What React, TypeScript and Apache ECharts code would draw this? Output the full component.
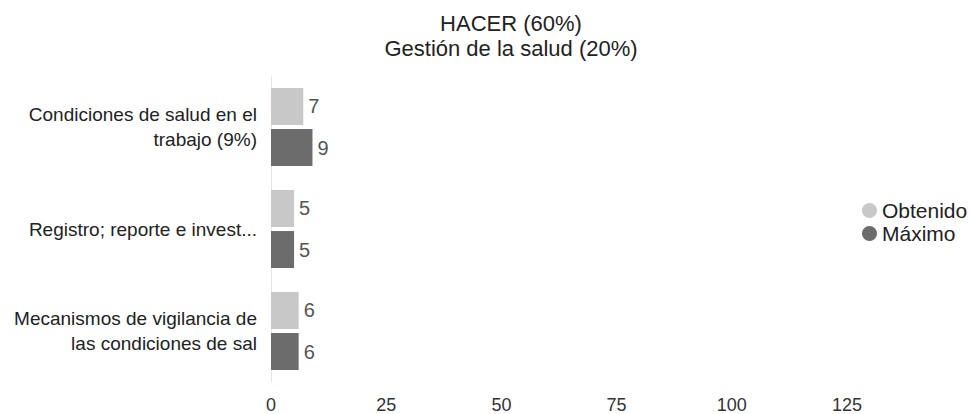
import React, { useEffect, useRef } from "react";
import * as echarts from "echarts";

const categories = [
  "Condiciones de salud en el\ntrabajo (9%)",
  "Registro; reporte e invest...",
  "Mecanismos de vigilancia de\nlas condiciones de sal",
];
const obtenido = [7, 5, 6];
const maximo = [9, 5, 6];
const titleLines = ["HACER (60%)", "Gestión de la salud (20%)"];
const seriesNames = ["Obtenido", "Máximo"];

export default function App() {
  const ref = useRef<HTMLDivElement>(null);
  useEffect(() => {
    if (!ref.current) return;
    const chart = echarts.init(ref.current, undefined, { renderer: "svg" });
    const font = "Liberation Sans, Arial, sans-serif";
    chart.setOption({
      animation: false,
      backgroundColor: "#ffffff",
      textStyle: { fontFamily: font },
      title: {
        text: titleLines.join("\n"),
        left: 506,
        top: 6,
        textAlign: "center",
        textStyle: { fontSize: 22, fontWeight: "normal", color: "#222", lineHeight: 25, fontFamily: font },
      },
      legend: {
        orient: "vertical",
        left: 857,
        top: 195,
        icon: "circle",
        itemWidth: 15,
        itemHeight: 15,
        itemGap: 2,
        textStyle: { fontSize: 21, color: "#222", fontFamily: font },
        data: seriesNames,
      },
      grid: { left: 271, right: 124, top: 76, bottom: 32, containLabel: false },
      xAxis: {
        type: "value",
        min: 0,
        max: 125,
        interval: 25,
        axisLine: { show: false },
        axisTick: { show: false },
        splitLine: { show: false },
        axisLabel: { fontSize: 18, color: "#333", margin: 14, fontFamily: font },
      },
      yAxis: {
        type: "category",
        inverse: true,
        data: categories,
        axisLine: { show: true, lineStyle: { color: "#e6e6e6" } },
        axisTick: { show: false },
        axisLabel: { fontSize: 19, color: "#222", margin: 14, lineHeight: 25, align: "right", fontFamily: font },
      },
      series: [
        {
          name: seriesNames[0],
          type: "bar",
          data: obtenido,
          barWidth: 37,
          barGap: "11%",
          itemStyle: { color: "#c8c8c8" },
          label: { show: true, position: "right", distance: 5, fontSize: 20, color: "#555", fontFamily: font },
        },
        {
          name: seriesNames[1],
          type: "bar",
          data: maximo,
          barWidth: 37,
          barGap: "11%",
          itemStyle: { color: "#6c6c6c" },
          label: { show: true, position: "right", distance: 5, fontSize: 20, color: "#555", fontFamily: font },
        },
      ],
    });
    return () => chart.dispose();
  }, []);
  return <div ref={ref} style={{ width: 971, height: 414, position: "fixed", left: 0, top: 0 }} />;
}
